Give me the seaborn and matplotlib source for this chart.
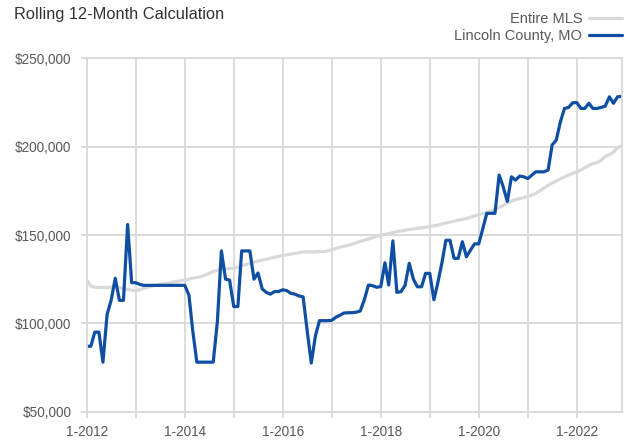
import matplotlib
matplotlib.use("Agg")
import matplotlib.pyplot as plt
import matplotlib.dates as mdates
import matplotlib.ticker as mticker
from matplotlib.lines import Line2D
import seaborn as sns
import pandas as pd
import numpy as np

# ---- data (thousands of dollars, monthly Jan 2012 .. Dec 2022) ----
start_month = "2012-01-01"
n_months = 132
series_names = ["Entire MLS", "Lincoln County, MO"]

entire_mls = [
    124.5, 121, 120.5, 120.3, 120.3, 120.3, 120.5, 120.4, 120.2, 119.8, 119.2, 118.8,
    118.5, 119, 119.8, 120.5, 121, 121.5, 122, 122.4, 122.8, 123.3, 123.7, 124.1,
    124.5, 125, 125.6, 126, 126.4, 127.3, 128.2, 129.4, 130, 130.4, 130.7, 131,
    131.1, 131.8, 132.6, 133.3, 134, 134.7, 135.2, 135.8, 136.3, 136.9, 137.4, 137.9,
    138.4, 138.8, 139.2, 139.6, 140, 140.4, 140.5, 140.4, 140.5, 140.6, 140.6, 141,
    141.7, 142.4, 143, 143.6, 144.2, 144.8, 145.6, 146.4, 147, 147.8, 148.5, 149.2,
    150, 150.4, 150.9, 151.4, 151.9, 152.3, 152.7, 153.1, 153.4, 153.8, 154.1, 154.4,
    154.8, 155.2, 155.6, 156.2, 156.8, 157.3, 157.8, 158.4, 158.9, 159.4, 160, 160.8,
    161.5, 162.2, 163, 163.6, 164.3, 165.5, 166.8, 168.2, 169.3, 170, 170.6, 171.2,
    171.8, 172.6, 173.6, 175, 176.6, 178.2, 179.5, 180.6, 181.8, 183, 184, 185,
    185.8, 186.8, 188, 189.4, 190.5, 191, 192.3, 194.5, 195.5, 197, 199.5, 200.5,
]

lincoln_county = [
    87, 87, 95, 95, 78, 105, 113, 125.5, 113, 113, 156, 123,
    123, 122, 121.5, 121.5, 121.5, 121.5, 121.5, 121.5, 121.5, 121.5, 121.5, 121.5,
    121.5, 116, 96, 78, 78, 78, 78, 78, 101, 141, 125, 124.5,
    109.5, 109.5, 141, 141, 141, 125, 128.5, 119.5, 117.5, 116.5, 118, 118,
    119, 118.5, 117, 116.5, 115.5, 115, 96, 77.5, 93, 101.5, 101.5, 101.5,
    101.7, 103.5, 104.5, 105.8, 106, 106, 106.3, 107, 113.5, 121.7, 121.3, 120.4,
    120.8, 134.3, 121.7, 146.7, 117.5, 118, 121.5, 134, 125, 120.7, 120.7, 128.3,
    128.3, 113.3, 122.6, 134, 147, 147, 136.8, 136.8, 146.2, 137.7, 141.5, 145,
    145, 153.8, 162.3, 162.3, 162.3, 184, 177.4, 169, 183, 181.1, 183.4, 183,
    182, 184, 185.8, 185.8, 185.8, 186.8, 201, 203.8, 214.2, 221.7, 222.3, 224.9,
    225, 221.7, 221.7, 224.6, 221.7, 221.7, 222.3, 223, 228.3, 224.6, 228.3, 228.5,
]

title_text = "Rolling 12-Month Calculation"
y_ticks = [50000, 100000, 150000, 200000, 250000]

# ---- build table ----
dates = pd.date_range(start_month, periods=n_months, freq="MS")
df = pd.concat([
    pd.DataFrame({"date": dates, "value": np.array(entire_mls) * 1000, "series": series_names[0]}),
    pd.DataFrame({"date": dates, "value": np.array(lincoln_county) * 1000, "series": series_names[1]}),
])

sns.set_theme(style="white")
plt.rcParams["font.family"] = ["Liberation Sans", "DejaVu Sans"]

GRID = "#d9d9d9"
TXT = "#595959"
colors = {series_names[0]: "#d9d9d9", series_names[1]: "#0f4fa3"}

fig = plt.figure(figsize=(6.26, 4.43), dpi=100)
ax = fig.add_axes([0.1385, 0.0709, 0.993 - 0.1385, 0.868 - 0.0709])

sns.lineplot(data=df, x="date", y="value", hue="series", palette=colors,
             hue_order=series_names, linewidth=2.3, ax=ax, legend=False)

ax.set_xlim(dates[0], dates[-1])
ax.set_ylim(y_ticks[0], y_ticks[-1])
ax.set_yticks(y_ticks)
ax.yaxis.set_major_formatter(mticker.FuncFormatter(lambda v, p: "${:,.0f}".format(v)))

ax.xaxis.set_major_locator(mdates.YearLocator(2))
ax.xaxis.set_minor_locator(mdates.YearLocator(1))
ax.xaxis.set_major_formatter(mticker.FuncFormatter(
    lambda v, p: "{}-{}".format(mdates.num2date(v).month, mdates.num2date(v).year)))

ax.grid(True, which="both", axis="x", color=GRID, linewidth=1.3)
ax.grid(True, which="major", axis="y", color=GRID, linewidth=1.3)
ax.set_axisbelow(True)
for s in ax.spines.values():
    s.set_color(GRID)
    s.set_linewidth(1.3)

ax.tick_params(axis="both", which="both", length=4, width=1.3, color=GRID,
               labelcolor=TXT, labelsize=9.8, bottom=True, left=True)
ax.tick_params(axis="x", which="both", pad=6)
ax.tick_params(axis="y", pad=7)
ax.set_xlabel("")
ax.set_ylabel("")

fig.text(0.022, 0.985, title_text, fontsize=11.8, color="#333333", ha="left", va="top")

handles = [Line2D([0], [0], color=colors[n], linewidth=2.3) for n in series_names]
fig.legend(handles, series_names, loc="upper right", bbox_to_anchor=(1.008, 0.992),
           frameon=False, markerfirst=False, fontsize=10.5, labelcolor=TXT,
           handlelength=2.3, handletextpad=0.45, labelspacing=0.2, borderaxespad=0.2)

fig.savefig("out.png", dpi=100)
